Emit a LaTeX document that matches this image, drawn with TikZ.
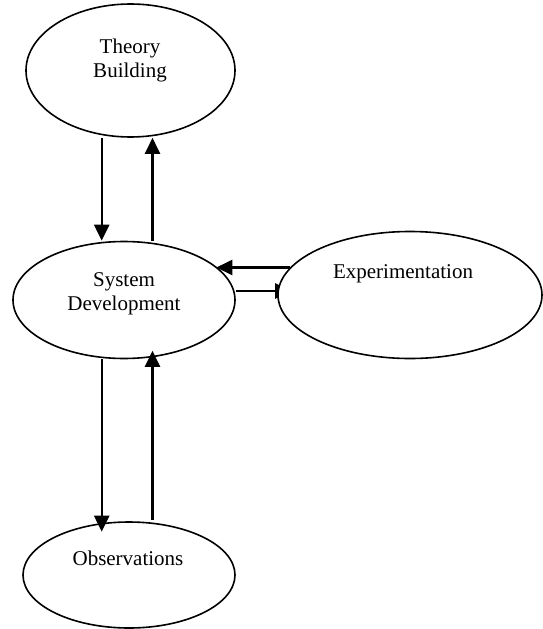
\documentclass[tikz,border=0pt]{standalone}
\usepackage{fontspec}
\setmainfont{Liberation Serif}
\usetikzlibrary{shapes.geometric,arrows.meta,calc}
\pgfdeclarelayer{bg}
\pgfsetlayers{bg,main}
\begin{document}
\begin{tikzpicture}[x=1pt,y=-1pt,
  bubble/.style={draw,ellipse,line width=1.6pt,inner sep=0pt,fill=white},
  lbl/.style={font=\fontsize{21}{24}\selectfont,align=center,inner sep=0pt},
  arr/.style={line width=2.3pt,-{Triangle[width=15pt,length=16pt]}}]
\useasboundingbox (0,0) rectangle (543,629);
% ellipses
\node[bubble,minimum width=209pt,minimum height=133pt] (theory) at (130.5,70.5) {};
\node[bubble,minimum width=222pt,minimum height=117pt] (sys) at (124,300) {};
\node[bubble,minimum width=264pt,minimum height=127pt] (exp) at (410,295) {};
\node[bubble,minimum width=212pt,minimum height=106pt] (obs) at (129,575) {};
% texts
\node[lbl,anchor=north] (theoryT) at (130,38.7) {Theory\\Building};
\node[lbl,anchor=north] (sysT) at (124,272.5) {System\\Development};
\node[lbl,anchor=base] (expT) at (403,278) {Experimentation};
\node[lbl,anchor=base] (obsT) at (128,565) {Observations};
% helper lines
\coordinate (cx1) at (101.7,0);
\coordinate (cx2) at (152.5,0);
\coordinate (cy1) at (0,267.5);
\coordinate (cy2) at (0,291);
% vertical arrows top
\draw[arr] (cx1 |- theory.south) -- (cx1 |- sys.north);
\draw[arr] (cx2 |- sys.north) -- (cx2 |- theory.south);
% vertical arrows bottom
\draw[arr] (cx1 |- sys.south) -- ($(cx1 |- obs.north)+(0,10.5)$);
\draw[arr] ($(cx2 |- obs.north)+(0,-1.5)$) -- ($(cx2 |- sys.south)+(0,-8.5)$);
% horizontal arrows
\draw[arr] ($(exp.west |- cy1)+(13,0)$) -- ($(sys.east |- cy1)+(-19.5,0)$);
\begin{pgfonlayer}{bg}
\draw[arr] (sys.east |- cy2) -- ($(exp.west |- cy2)+(14,0)$);
\end{pgfonlayer}
\end{tikzpicture}
\end{document}
